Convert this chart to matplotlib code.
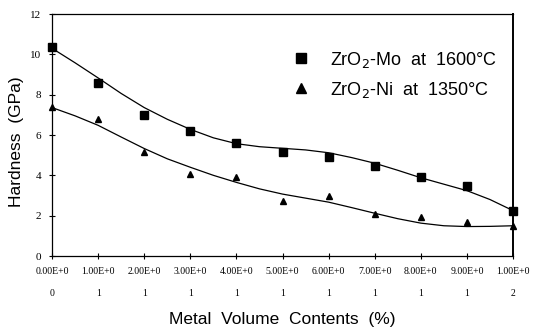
import numpy as np
import matplotlib
matplotlib.use("Agg")
import matplotlib.pyplot as plt

# measured points
metal_pct = [0, 1, 2, 3, 4, 5, 6, 7, 8, 9, 10]
mo_hardness = [10.36, 8.58, 6.98, 6.22, 5.6, 5.14, 4.92, 4.46, 3.93, 3.47, 2.24]
ni_hardness = [7.39, 6.78, 5.16, 4.09, 3.9, 2.72, 2.97, 2.06, 1.95, 1.67, 1.5]

# trend lines
curve_x = [0, 0.5, 1, 1.5, 2, 2.5, 3, 3.5, 4, 4.5, 5, 5.5, 6, 6.5, 7, 7.5, 8, 8.5, 9, 9.5, 10]
mo_curve = [10.3, 9.58, 8.83, 8.06, 7.36, 6.78, 6.28, 5.86, 5.57, 5.42, 5.34, 5.26, 5.12, 4.88, 4.6,
            4.25, 3.88, 3.56, 3.24, 2.8, 2.25]
ni_curve = [7.36, 6.95, 6.48, 5.9, 5.33, 4.82, 4.4, 4.0, 3.65, 3.33, 3.07, 2.87, 2.67, 2.4, 2.12,
            1.85, 1.63, 1.5, 1.46, 1.47, 1.5]

xtick_labels = ["0.00E+0\n0", "1.00E+0\n1", "2.00E+0\n1", "3.00E+0\n1", "4.00E+0\n1",
                "5.00E+0\n1", "6.00E+0\n1", "7.00E+0\n1", "8.00E+0\n1", "9.00E+0\n1",
                "1.00E+0\n2"]

fig = plt.figure(figsize=(5.33, 3.35), dpi=100)
ax = fig.add_axes([0.0976, 0.2358, 0.865, 0.7224])

ax.plot(curve_x, mo_curve, color="black", lw=0.9)
ax.plot(curve_x, ni_curve, color="black", lw=0.9)
ax.plot(metal_pct, mo_hardness, "s", color="black", ms=5.5, clip_on=False,
        label="ZrO$_2$-Mo  at  1600°C")
ax.plot(metal_pct, ni_hardness, "^", color="black", ms=5, clip_on=False,
        label="ZrO$_2$-Ni  at  1350°C")

ax.set_xlim(0, 10)
ax.set_ylim(0, 12)
ax.set_yticks(range(0, 13, 2))
ax.set_xticks(metal_pct)
ax.set_xticklabels(xtick_labels, family="Liberation Serif", fontsize=7, linespacing=2.9)
for lab in ax.get_yticklabels():
    lab.set_family("Liberation Serif")
    lab.set_fontsize(8)
ax.tick_params(direction="inout", length=4, width=0.8, pad=6)

for side in ["left", "bottom", "top"]:
    ax.spines[side].set_linewidth(0.9)
ax.spines["right"].set_linewidth(1.4)

ax.set_xlabel("Metal  Volume  Contents  (%)", family="Liberation Sans", fontsize=12.5, labelpad=10)
fig.text(17 / 533, 1 - 142 / 335, "Hardness  (GPa)", family="Liberation Sans", fontsize=12.5,
         rotation=90, ha="center", va="center")

leg = ax.legend(loc="upper right", bbox_to_anchor=(1.0, 0.92), frameon=False,
                handlelength=0.8, handletextpad=1.2, labelspacing=0.55, markerscale=1.4,
                prop={"family": "Liberation Sans", "size": 13})

fig.savefig("out.png", dpi=100)
